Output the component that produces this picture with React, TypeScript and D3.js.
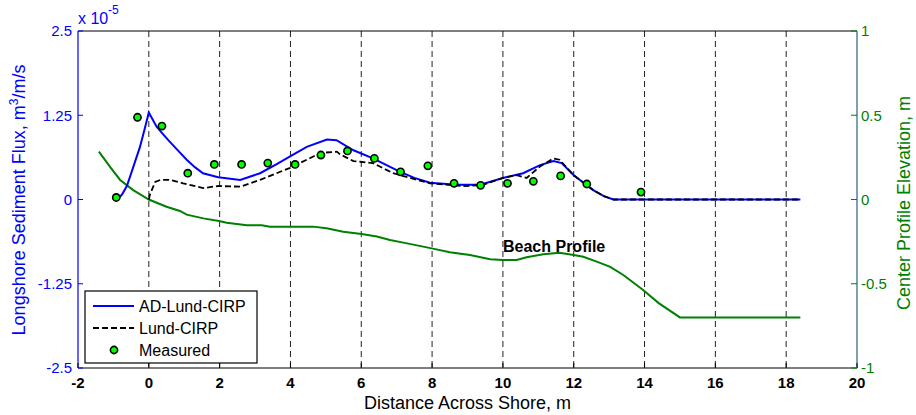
import * as d3 from 'd3';

// flux values are in units of 1e-5 m^3/m/s
const adX = [-0.92, -0.85, -0.75, -0.62, -0.44, -0.25, -0.11, 0, 0.22, 0.4, 0.55, 0.8, 1.07, 1.3, 1.53, 1.96, 2.58, 3.14, 3.6, 3.99, 4.46, 5.03, 5.3, 5.78, 6.33, 7.1, 7.5, 7.94, 8.7, 9.36, 10.0, 10.57, 11.05, 11.43, 11.66, 12.0, 12.55, 12.85, 13.12, 18.4];
const adFlux = [0.0, 0.02, 0.08, 0.2, 0.48, 0.78, 1.06, 1.29, 1.08, 0.97, 0.88, 0.74, 0.59, 0.48, 0.39, 0.33, 0.29, 0.39, 0.52, 0.64, 0.78, 0.89, 0.88, 0.73, 0.61, 0.41, 0.32, 0.25, 0.22, 0.22, 0.32, 0.39, 0.51, 0.57, 0.54, 0.36, 0.14, 0.05, 0, 0];

const lundX = [0, 0.03, 0.18, 0.32, 0.6, 0.97, 1.54, 1.96, 2.58, 3.14, 3.99, 4.5, 4.84, 5.31, 5.4, 5.78, 5.97, 6.33, 6.9, 7.94, 8.88, 9.4, 10.0, 10.39, 10.67, 11.05, 11.43, 11.6, 12.0, 12.55, 12.85, 13.12, 18.4];
const lundFlux = [0, 0.07, 0.26, 0.29, 0.29, 0.24, 0.17, 0.2, 0.19, 0.29, 0.47, 0.6, 0.69, 0.71, 0.67, 0.57, 0.56, 0.54, 0.39, 0.24, 0.2, 0.21, 0.32, 0.36, 0.32, 0.49, 0.61, 0.59, 0.36, 0.14, 0.05, 0, 0];

const measX = [-0.92, -0.32, 0.37, 1.1, 1.85, 2.62, 3.36, 4.13, 4.86, 5.61, 6.37, 7.11, 7.88, 8.62, 9.37, 10.13, 10.86, 11.63, 12.37, 13.9];
const measFlux = [0.03, 1.22, 1.09, 0.39, 0.52, 0.52, 0.54, 0.52, 0.66, 0.72, 0.61, 0.41, 0.5, 0.24, 0.21, 0.24, 0.27, 0.35, 0.23, 0.11];

const profX = [-1.41, -1.1, -0.81, -0.44, 0, 0.5, 0.88, 1.07, 1.54, 1.98, 2.2, 2.77, 3.19, 3.42, 4.64, 5.02, 5.49, 6.01, 6.44, 6.81, 7.19, 7.99, 8.5, 9.07, 9.64, 10.0, 10.39, 10.67, 11.14, 11.6, 12.0, 12.27, 12.65, 13.03, 13.4, 13.96, 14.4, 15.0, 18.4];
const profElev = [0.284, 0.195, 0.116, 0.056, 0, -0.043, -0.068, -0.09, -0.112, -0.128, -0.138, -0.153, -0.153, -0.161, -0.161, -0.171, -0.191, -0.205, -0.22, -0.24, -0.256, -0.29, -0.313, -0.33, -0.355, -0.359, -0.359, -0.343, -0.325, -0.316, -0.33, -0.34, -0.369, -0.4, -0.448, -0.537, -0.615, -0.7, -0.7];

const xTicks = [-2, 0, 2, 4, 6, 8, 10, 12, 14, 16, 18, 20];
const gridX = [0, 2, 4, 6, 8, 10, 12, 14, 16, 18];
const fluxTicks = [-2.5, -1.25, 0, 1.25, 2.5];
const elevTicks = [-1, -0.5, 0, 0.5, 1];

const BLUE = '#0000ff';
const GREEN = '#008000';
const FONT = '"Liberation Sans", Arial, Helvetica, sans-serif';

export default function App() {
  const left = 78, right = 857, top = 31, bottom = 368;

  const x = d3.scaleLinear().domain([-2, 20]).range([left, right]);
  const yFlux = d3.scaleLinear().domain([-2.5, 2.5]).range([bottom, top]);
  const yElev = d3.scaleLinear().domain([-1, 1]).range([bottom, top]);

  const fluxLine = d3.line<[number, number]>().x(d => x(d[0])).y(d => yFlux(d[1]));
  const elevLine = d3.line<[number, number]>().x(d => x(d[0])).y(d => yElev(d[1]));

  const adPath = fluxLine(adX.map((v, i) => [v, adFlux[i]]));
  const lundPath = fluxLine(lundX.map((v, i) => [v, lundFlux[i]]));
  const profPath = elevLine(profX.map((v, i) => [v, profElev[i]]));

  return (
    <div style={{ position: 'absolute', left: 0, top: 0 }}>
      <svg width={916} height={415} style={{ display: 'block', background: '#fff' }} fontFamily={FONT}>
        {/* dashed vertical guides */}
        {gridX.map(g => (
          <line key={g} x1={x(g)} x2={x(g)} y1={top} y2={bottom} stroke="#222" strokeWidth={1} strokeDasharray="6,4" />
        ))}

        {/* beach profile on the right axis */}
        <path d={profPath ?? ''} fill="none" stroke={GREEN} strokeWidth={2} />
        <text x={503} y={252} fontSize={16} fontWeight="bold" fill="#000">Beach Profile</text>

        <path d={adPath ?? ''} fill="none" stroke={BLUE} strokeWidth={2} />
        <path d={lundPath ?? ''} fill="none" stroke="#000" strokeWidth={1.8} strokeDasharray="6,3" />
        {measX.map((v, i) => (
          <circle key={i} cx={x(v)} cy={yFlux(measFlux[i])} r={3.6} fill="#00ff00" stroke="#000" strokeWidth={1.6} />
        ))}

        {/* box */}
        <line x1={left} x2={right} y1={top} y2={top} stroke="#000" strokeWidth={1} />
        <line x1={left} x2={right} y1={bottom} y2={bottom} stroke="#000" strokeWidth={1.2} />
        <line x1={left} x2={left} y1={top} y2={bottom} stroke={BLUE} strokeWidth={1.2} />
        <line x1={right} x2={right} y1={top} y2={bottom} stroke="#2b6080" strokeWidth={1.2} />

        {/* x axis */}
        {xTicks.map(t => (
          <g key={t}>
            <line x1={x(t)} x2={x(t)} y1={bottom} y2={bottom - 5} stroke="#000" />
            <text x={x(t)} y={388} textAnchor="middle" fontSize={15} fontWeight="bold" fill="#000">{t}</text>
          </g>
        ))}
        <text x={(left + right) / 2} y={409} textAnchor="middle" fontSize={18} fill="#000">Distance Across Shore, m</text>

        {/* left axis */}
        {fluxTicks.map(t => (
          <g key={t}>
            <line x1={left} x2={left + 5} y1={yFlux(t)} y2={yFlux(t)} stroke={BLUE} />
            <text x={72} y={yFlux(t)} dy="0.36em" textAnchor="end" fontSize={15} fill={BLUE}>{t}</text>
          </g>
        ))}
        <text x={78} y={24} fontSize={16} fill={BLUE}>x 10</text>
        <text x={108} y={14} fontSize={12} fill={BLUE}>-5</text>
        <text transform="translate(25,200) rotate(-90)" textAnchor="middle" fontSize={18} fill={BLUE}>
          Longshore Sediment Flux, m<tspan fontSize={12} dy={-7}>3</tspan><tspan dy={7}>/m/s</tspan>
        </text>

        {/* right axis */}
        {elevTicks.map(t => (
          <g key={t}>
            <line x1={right} x2={right - 6} y1={yElev(t)} y2={yElev(t)} stroke={GREEN} />
            <text x={861} y={yElev(t)} dy="0.36em" fontSize={15} fill={GREEN}>{t}</text>
          </g>
        ))}
        <text transform="translate(910,203) rotate(-90)" textAnchor="middle" fontSize={18} fill={GREEN}>
          Center Profile Elevation, m
        </text>

        {/* legend */}
        <g>
          <rect x={85} y={291} width={172} height={72} fill="#fff" stroke="#000" strokeWidth={1.2} />
          <line x1={93} x2={134} y1={306} y2={306} stroke={BLUE} strokeWidth={2} />
          <text x={139} y={312} fontSize={16} fill="#000">AD-Lund-CIRP</text>
          <line x1={93} x2={134} y1={328} y2={328} stroke="#000" strokeWidth={1.8} strokeDasharray="6,3" />
          <text x={139} y={334} fontSize={16} fill="#000">Lund-CIRP</text>
          <circle cx={114} cy={350} r={3.6} fill="#00ff00" stroke="#000" strokeWidth={1.6} />
          <text x={139} y={356} fontSize={16} fill="#000">Measured</text>
        </g>
      </svg>
    </div>
  );
}
